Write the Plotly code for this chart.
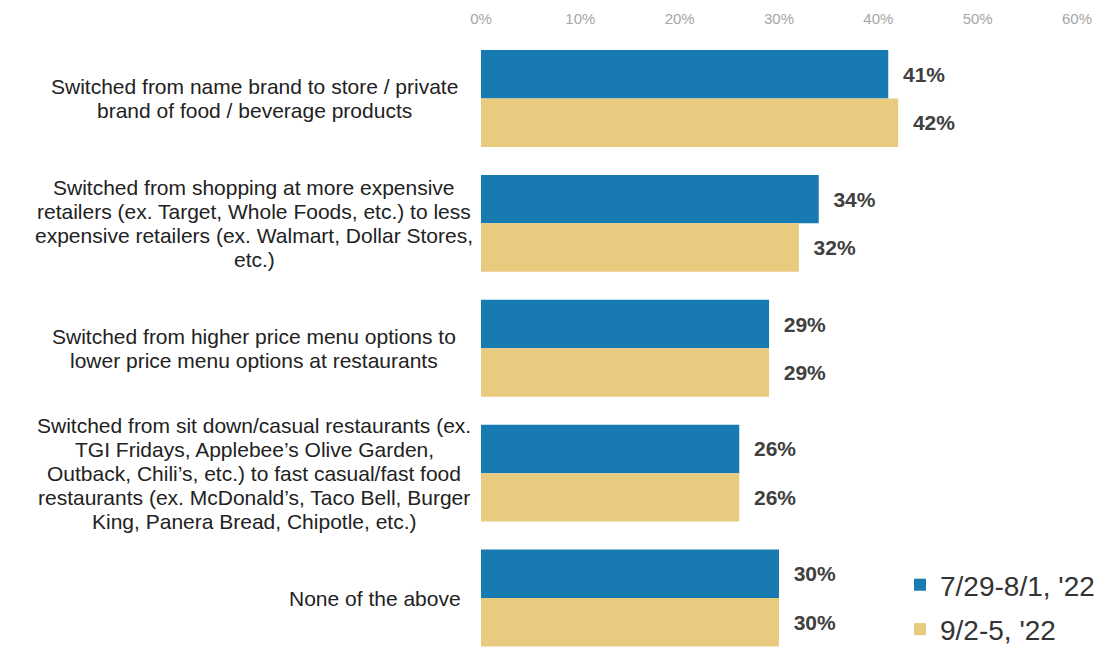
import plotly.graph_objects as go

categories = [
    "Switched from name brand to store / private<br>brand of food / beverage products",
    "Switched from shopping at more expensive<br>retailers (ex. Target, Whole Foods, etc.) to less<br>expensive retailers (ex. Walmart, Dollar Stores,<br>etc.)",
    "Switched from higher price menu options to<br>lower price menu options at restaurants",
    "Switched from sit down/casual restaurants (ex.<br>TGI Fridays, Applebee\u2019s Olive Garden,<br>Outback, Chili\u2019s, etc.) to fast casual/fast food<br>restaurants (ex. McDonald\u2019s, Taco Bell, Burger<br>King, Panera Bread, Chipotle, etc.)",
    "None of the above",
]
series_names = ["7/29-8/1, '22", "9/2-5, '22"]
wave1 = [41, 34, 29, 26, 30]
wave2 = [42, 32, 29, 26, 30]
x_ticks = [0, 10, 20, 30, 40, 50, 60]

BLUE = "#177AB1"
GOLD = "#E9CB80"
FONT = "Liberation Sans, Arial, sans-serif"

W, H = 1099, 648
L, R, T, B = 481, 22, 36, 0
plot_w = W - L - R
LINE_PITCH = 24

pos = list(range(len(categories)))

fig = go.Figure()
for name, vals, color, grp in [(series_names[0], wave1, BLUE, "a"),
                               (series_names[1], wave2, GOLD, "b")]:
    fig.add_trace(go.Bar(
        y=pos, x=vals, name=name, orientation="h",
        marker=dict(color=color, line=dict(width=0)),
        text=[f"\u00a0\u00a0{v}%" for v in vals],
        textposition="outside", cliponaxis=False, constraintext="none",
        textfont=dict(family=FONT, size=21, color="#404040", weight="bold"),
        legendgroup=grp, hoverinfo="skip",
    ))


def px_to_paper(px):
    return (px - L) / plot_w


# Category labels: one annotation per line for a tight line pitch
annotations = []
for i, label in enumerate(categories):
    lines = label.split("<br>")
    n = len(lines)
    last = i == len(categories) - 1
    for k, line in enumerate(lines):
        annotations.append(dict(
            x=px_to_paper(463 if last else 254), xref="paper",
            xanchor="right" if last else "center",
            y=i, yref="y", yanchor="middle",
            yshift=-(k - (n - 1) / 2) * LINE_PITCH,
            text=line, showarrow=False,
            font=dict(family=FONT, size=21, color="#222222"),
        ))

fig.update_layout(
    width=W, height=H,
    margin=dict(l=L, r=R, t=T, b=B, pad=0, autoexpand=False),
    paper_bgcolor="white", plot_bgcolor="white",
    barmode="group", bargap=0.224, bargroupgap=0,
    showlegend=True,
    legend=dict(x=px_to_paper(900), xanchor="left",
                y=-6 / (H - T), yanchor="bottom",
                xref="paper", yref="paper",
                font=dict(family=FONT, size=28, color="#333333"),
                traceorder="grouped", tracegroupgap=5,
                bgcolor="rgba(0,0,0,0)", itemwidth=30, itemclick=False),
    xaxis=dict(range=[0, 60], side="top", tickvals=x_ticks,
               ticktext=[f"{t}%" for t in x_ticks],
               showgrid=False, zeroline=False, showline=False, ticks="",
               ticklabelstandoff=8,
               tickfont=dict(family=FONT, size=15, color="#A6A6A6")),
    yaxis=dict(range=[4.4, -0.5], showticklabels=False, showgrid=False,
               zeroline=False, showline=False, ticks=""),
    annotations=annotations,
    font=dict(family=FONT),
)

fig.write_html("out.html")
